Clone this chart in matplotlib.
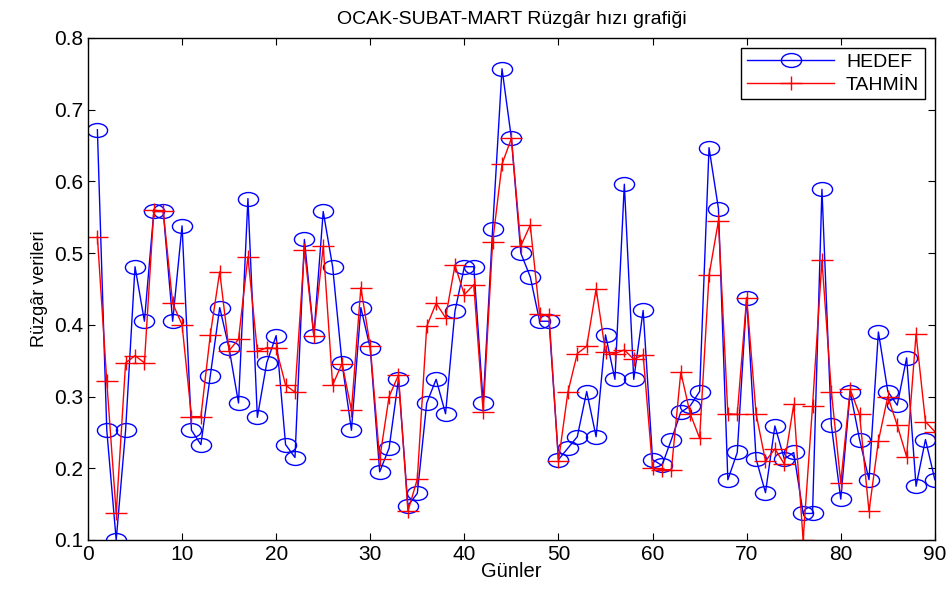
import numpy as np
import matplotlib
matplotlib.use("Agg")
import matplotlib.pyplot as plt
from matplotlib.path import Path
from matplotlib.transforms import Affine2D

plt.rcParams['font.family'] = ['Liberation Sans', 'DejaVu Sans']

days = np.arange(1, 91)

hedef = [0.672, 0.253, 0.100, 0.253, 0.481, 0.405, 0.558, 0.558, 0.405, 0.538,
         0.253, 0.233, 0.329, 0.424, 0.367, 0.291, 0.576, 0.271, 0.347, 0.385,
         0.233, 0.215, 0.519, 0.385, 0.558, 0.481, 0.347, 0.253, 0.424, 0.367,
         0.195, 0.228, 0.324, 0.148, 0.165, 0.291, 0.324, 0.276, 0.419, 0.481,
         0.481, 0.291, 0.533, 0.757, 0.660, 0.500, 0.467, 0.405, 0.405, 0.212,
         0.228, 0.244, 0.307, 0.244, 0.386, 0.324, 0.596, 0.324, 0.420, 0.212,
         0.204, 0.240, 0.278, 0.287, 0.307, 0.647, 0.562, 0.184, 0.222, 0.438,
         0.213, 0.166, 0.259, 0.213, 0.222, 0.137, 0.137, 0.589, 0.260, 0.157,
         0.307, 0.240, 0.184, 0.390, 0.307, 0.288, 0.354, 0.175, 0.240, 0.184]

tahmin = [0.523, 0.321, 0.137, 0.347, 0.357, 0.347, 0.560, 0.558, 0.430, 0.400,
          0.272, 0.272, 0.386, 0.474, 0.364, 0.380, 0.495, 0.363, 0.368, 0.367,
          0.316, 0.306, 0.505, 0.385, 0.510, 0.316, 0.346, 0.281, 0.452, 0.370,
          0.213, 0.300, 0.330, 0.140, 0.185, 0.398, 0.430, 0.410, 0.483, 0.442,
          0.456, 0.278, 0.515, 0.624, 0.660, 0.510, 0.539, 0.415, 0.413, 0.210,
          0.306, 0.360, 0.370, 0.450, 0.362, 0.360, 0.365, 0.352, 0.358, 0.200,
          0.198, 0.198, 0.334, 0.276, 0.242, 0.469, 0.545, 0.276, 0.275, 0.438,
          0.276, 0.210, 0.227, 0.206, 0.289, 0.100, 0.287, 0.490, 0.307, 0.180,
          0.310, 0.275, 0.140, 0.238, 0.300, 0.260, 0.216, 0.387, 0.265, 0.251]

# stretched markers (reference image is squeezed vertically)
ellipse = Path.unit_circle().transformed(Affine2D().scale(1.45, 1.0))
plus = Path([(-1.45, 0), (1.45, 0), (0, -1), (0, 1)],
            [Path.MOVETO, Path.LINETO, Path.MOVETO, Path.LINETO])

fig = plt.figure(figsize=(9.52, 6.02), dpi=100)
ax = fig.add_axes([0.0924, 0.103, 0.8896, 0.834])

ax.plot(days, hedef, color='blue', lw=1, marker=ellipse, markersize=14.5,
        markerfacecolor='none', markeredgecolor='blue', markeredgewidth=1, label='HEDEF')
ax.plot(days, tahmin, color='red', lw=1, marker=plus, markersize=15.5,
        markeredgecolor='red', markeredgewidth=1, label='TAHMİN')

ax.set_xlim(0, 90)
ax.set_ylim(0.1, 0.8)
ax.set_xticks(np.arange(0, 91, 10))
ax.set_yticks(np.arange(0.1, 0.81, 0.1))
ax.set_yticklabels(['%.1f' % v for v in np.arange(0.1, 0.81, 0.1)])
ax.tick_params(direction='in', top=True, right=True, labelsize=15, length=5)
for s in ax.spines.values():
    s.set_linewidth(1)

ax.set_title('OCAK-SUBAT-MART Rüzgâr hızı grafiği', fontsize=14, pad=10)
ax.set_xlabel('Günler', fontsize=14.5, labelpad=-1)
ax.set_ylabel('Rüzgâr verileri', fontsize=13, labelpad=4)

leg = ax.legend(loc='upper right', fontsize=14, fancybox=False, framealpha=1,
                edgecolor='black', handlelength=4.5, borderaxespad=0.5,
                handletextpad=0.6, borderpad=0.3, labelspacing=0.25)
leg.get_frame().set_linewidth(1)

fig.savefig('out.png', dpi=100)
